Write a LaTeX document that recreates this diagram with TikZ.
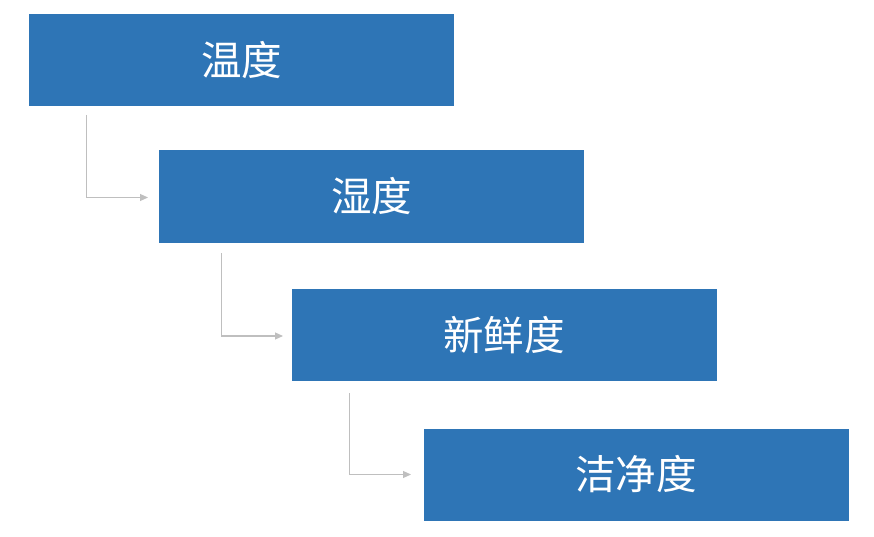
\documentclass[tikz,border=0pt]{standalone}
\usepackage{fontspec}
\newfontfamily\cjk{Noto Sans CJK SC}
\usetikzlibrary{arrows.meta}
\definecolor{boxblue}{HTML}{2E75B6}
\definecolor{lineg}{HTML}{BFBFBF}
\tikzset{
  stepbox/.style={fill=boxblue, draw=none, minimum width=425pt, minimum height=92pt, inner sep=0pt,
    text=white, font=\cjk\fontsize{40.5}{46}\selectfont},
  conn/.style={draw=lineg, line width=1.1pt, -{Triangle[length=8pt,width=7pt]}}
}
\begin{document}
\begin{tikzpicture}[x=1pt,y=-1pt]
\useasboundingbox (0,0) rectangle (874,537);
\node[stepbox] (b1) at (241.5,60) {温度};
\node[stepbox] (b2) at (371.5,196.5) {湿度};
\node[stepbox] (b3) at (504,335) {新鲜度};
\node[stepbox] (b4) at (636,474.5) {洁净度};
\coordinate (s1) at (86.5,115);
\coordinate (e1) at (148,197.5);
\coordinate (s2) at (221.5,253);
\coordinate (e2) at (283,336);
\coordinate (s3) at (349.5,393);
\coordinate (e3) at (411,474.5);
\draw[conn] (s1) |- (e1);
\draw[conn] (s2) |- (e2);
\draw[conn] (s3) |- (e3);
\end{tikzpicture}
\end{document}
